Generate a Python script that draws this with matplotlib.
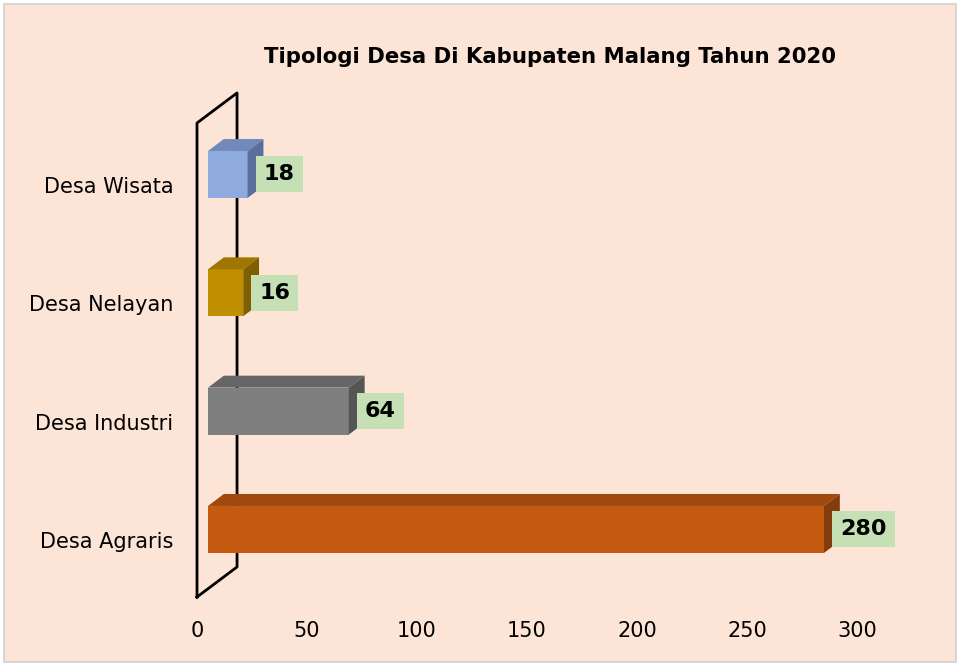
import matplotlib.pyplot as plt
from matplotlib.patches import Polygon, Rectangle

# data
categories = ['Desa Agraris', 'Desa Industri', 'Desa Nelayan', 'Desa Wisata']
values = [280, 64, 16, 18]
front_colors = ['#C55A11', '#7F7F7F', '#BF8F00', '#8FAADC']
top_colors = ['#A0480E', '#666666', '#9E7600', '#7289BA']
side_colors = ['#843C0C', '#555555', '#7F6000', '#5B6F9E']
xticks = [0, 50, 100, 150, 200, 250, 300]

plt.rcParams['font.family'] = 'DejaVu Sans'

fig = plt.figure(figsize=(9.57, 6.64), dpi=100)
fig.patch.set_facecolor('white')
fig.patches.append(Rectangle((4 / 957, 2 / 664), 952 / 957, 658 / 664,
                             transform=fig.transFigure, facecolor='#FCE4D6',
                             edgecolor='#D0D0D0', linewidth=1.2, zorder=-10))

ax = fig.add_axes([197 / 957, 67 / 664, 660 / 957, 503 / 664])
ax.set_facecolor('none')
ax.set_xlim(0, 300)
ax.set_ylim(-0.482, 3.769)
for s in ax.spines.values():
    s.set_visible(False)

# back wall (parallelogram)
wall_dx, wall_dy = 18.2, 0.254
y0, y1 = -0.482, 3.524
ax.plot([0, 0, wall_dx, wall_dx, 0], [y0, y1, y1 + wall_dy, y0 + wall_dy, y0],
        color='black', lw=2, clip_on=False, zorder=1)

# bars with fake 3d
ypos = list(range(len(categories)))
x_off = 5.0
y_off = 0.089
h = 0.397
dx, dy = 7.2, 0.101
ax.barh([y + y_off for y in ypos], values, left=x_off, height=h,
        color=front_colors, zorder=3)
for y, v, tc, sc in zip(ypos, values, top_colors, side_colors):
    yt = y + y_off + h / 2
    yb = y + y_off - h / 2
    x1 = x_off + v
    ax.add_patch(Polygon([(x_off, yt), (x1, yt), (x1 + dx, yt + dy), (x_off + dx, yt + dy)],
                         closed=True, facecolor=tc, edgecolor='none', zorder=3, clip_on=False))
    ax.add_patch(Polygon([(x1, yb), (x1 + dx, yb + dy), (x1 + dx, yt + dy), (x1, yt)],
                         closed=True, facecolor=sc, edgecolor='none', zorder=3, clip_on=False))
    ax.text(x1 + 7.3, y + y_off, str(v), ha='left', va='center',
            fontsize=16, fontweight='bold', color='black', zorder=4,
            bbox=dict(boxstyle='square,pad=0.36', facecolor='#C5E0B4', edgecolor='none'))

ax.set_yticks(ypos)
ax.set_yticklabels(categories, fontsize=15)
ax.set_xticks(xticks)
ax.set_xticklabels([str(t) for t in xticks], fontsize=15)
ax.tick_params(axis='both', length=0)
ax.tick_params(axis='x', pad=17)
ax.tick_params(axis='y', pad=17)

fig.text(550 / 957, 1 - 57 / 664, 'Tipologi Desa Di Kabupaten Malang Tahun 2020',
         ha='center', va='center', fontsize=15.3, fontweight='bold')

fig.savefig('out.png', dpi=100)
